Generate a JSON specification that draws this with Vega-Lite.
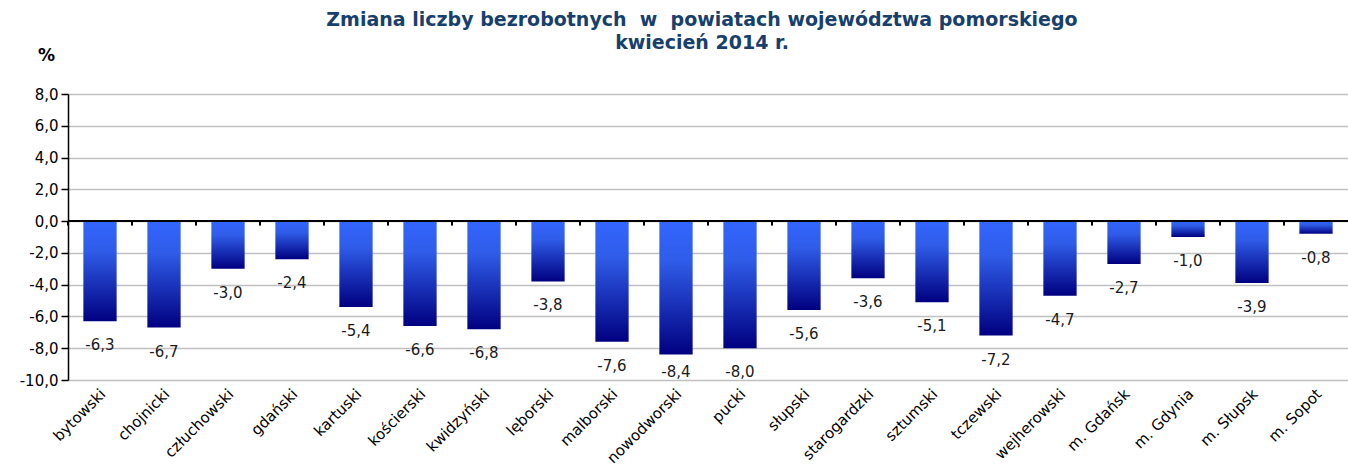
{
  "$schema": "https://vega.github.io/schema/vega-lite/v6.json",
  "width": 1280,
  "height": 286,
  "autosize": {"type": "none"},
  "padding": {"left": 68, "top": 94, "right": 0, "bottom": 86},
  "background": "white",
  "title": {
    "text": ["Zmiana liczby bezrobotnych\u00a0 w\u00a0 powiatach województwa pomorskiego", "kwiecień 2014 r."],
    "font": "DejaVu Sans",
    "fontSize": 19,
    "fontWeight": "bold",
    "color": "#17406D",
    "anchor": "middle",
    "dx": -6,
    "dy": 11,
    "lineHeight": 23,
    "offset": 4
  },
  "data": {
    "values": [
      {"powiat": "bytowski", "zmiana": -6.3, "etykieta": "-6,3"},
      {"powiat": "chojnicki", "zmiana": -6.7, "etykieta": "-6,7"},
      {"powiat": "człuchowski", "zmiana": -3.0, "etykieta": "-3,0"},
      {"powiat": "gdański", "zmiana": -2.4, "etykieta": "-2,4"},
      {"powiat": "kartuski", "zmiana": -5.4, "etykieta": "-5,4"},
      {"powiat": "kościerski", "zmiana": -6.6, "etykieta": "-6,6"},
      {"powiat": "kwidzyński", "zmiana": -6.8, "etykieta": "-6,8"},
      {"powiat": "lęborski", "zmiana": -3.8, "etykieta": "-3,8"},
      {"powiat": "malborski", "zmiana": -7.6, "etykieta": "-7,6"},
      {"powiat": "nowodworski", "zmiana": -8.4, "etykieta": "-8,4"},
      {"powiat": "pucki", "zmiana": -8.0, "etykieta": "-8,0"},
      {"powiat": "słupski", "zmiana": -5.6, "etykieta": "-5,6"},
      {"powiat": "starogardzki", "zmiana": -3.6, "etykieta": "-3,6"},
      {"powiat": "sztumski", "zmiana": -5.1, "etykieta": "-5,1"},
      {"powiat": "tczewski", "zmiana": -7.2, "etykieta": "-7,2"},
      {"powiat": "wejherowski", "zmiana": -4.7, "etykieta": "-4,7"},
      {"powiat": "m. Gdańsk", "zmiana": -2.7, "etykieta": "-2,7"},
      {"powiat": "m. Gdynia", "zmiana": -1.0, "etykieta": "-1,0"},
      {"powiat": "m. Słupsk", "zmiana": -3.9, "etykieta": "-3,9"},
      {"powiat": "m. Sopot", "zmiana": -0.8, "etykieta": "-0,8"}
    ]
  },
  "encoding": {
    "x": {
      "field": "powiat",
      "type": "nominal",
      "sort": null,
      "scale": {"paddingInner": 0.48, "paddingOuter": 0.24},
      "axis": {
        "title": null,
        "orient": "bottom",
        "labelAngle": -45,
        "labelAlign": "right",
        "labelBaseline": "middle",
        "labelFont": "DejaVu Sans",
        "labelFontSize": 15,
        "labelColor": "#000000",
        "labelPadding": 11,
        "labelOffset": 3,
        "domain": false,
        "ticks": false,
        "grid": false
      }
    },
    "y": {
      "field": "zmiana",
      "type": "quantitative",
      "scale": {"domain": [-10, 8], "nice": false, "zero": false},
      "axis": {
        "values": [-10, -8, -6, -4, -2, 0, 2, 4, 6, 8],
        "labelExpr": "replace(replace(format(datum.value, '.1f'), '.', ','), '\u2212', '-')",
        "labelFont": "DejaVu Sans",
        "labelFontSize": 15,
        "labelColor": "#000000",
        "labelPadding": 3,
        "tickColor": "#000000",
        "tickSize": 7,
        "tickWidth": 1.5,
        "domainColor": "#000000",
        "domainWidth": 1.5,
        "gridColor": "#C0C0C0",
        "gridWidth": 1.5,
        "title": "%",
        "titleAngle": 0,
        "titleX": -22,
        "titleY": -39,
        "titleAlign": "center",
        "titleBaseline": "middle",
        "titleFont": "DejaVu Sans",
        "titleFontSize": 17,
        "titleFontWeight": "bold",
        "titleColor": "#000000"
      }
    }
  },
  "layer": [
    {
      "mark": {
        "type": "bar",
        "fill": {
          "x1": 0, "y1": 0, "x2": 0, "y2": 1,
          "gradient": "linear",
          "stops": [
            {"offset": 0, "color": "#3366FF"},
            {"offset": 0.3, "color": "#2F5CE8"},
            {"offset": 1, "color": "#000080"}
          ]
        }
      }
    },
    {
      "mark": {
        "type": "text",
        "baseline": "middle",
        "align": "center",
        "dy": {"expr": "min(24, 278 - scale('y', datum.zmiana))"},
        "font": "DejaVu Sans",
        "fontSize": 15,
        "color": "#1A1A1A"
      },
      "encoding": {
        "text": {"field": "etykieta"}
      }
    },
    {
      "mark": {"type": "rule", "color": "#000000", "strokeWidth": 2},
      "encoding": {
        "y": {"datum": 0},
        "x": {"value": 0},
        "x2": {"value": 1280}
      }
    },
    {
      "mark": {"type": "rule", "color": "#000000", "strokeWidth": 2},
      "encoding": {
        "x": {"field": "powiat", "type": "nominal", "sort": null, "bandPosition": -0.4615},
        "y": {"datum": 0},
        "y2": {"datum": -0.28}
      }
    }
  ]
}
